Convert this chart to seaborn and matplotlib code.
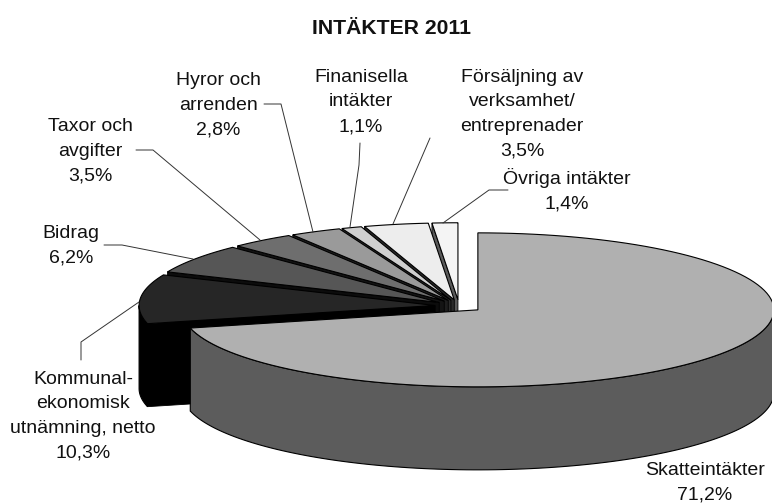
import numpy as np
import seaborn as sns
import matplotlib.pyplot as plt

# Andelar i procent, medurs fran klockan 12
names = ['Skatteintäkter', 'Kommunal-\nekonomisk\nutnämning, netto', 'Bidrag', 'Taxor och\navgifter',
         'Hyror och\narrenden', 'Finanisella\nintäkter', 'Försäljning av\nverksamhet/\nentreprenader', 'Övriga intäkter']
shares = [71.2, 10.3, 6.2, 3.5, 2.8, 1.1, 3.5, 1.4]
value_labels = ['71,2%', '10,3%', '6,2%', '3,5%', '2,8%', '1,1%', '3,5%', '1,4%']

top_colors = ['#b0b0b0', '#262626', '#565656', '#6e6e6e', '#9a9a9a', '#cfcfcf', '#ededed', '#f4f4f4']
side_colors = ['#5c5c5c', '#000000', '#0c0c0c', '#141414', '#1e1e1e', '#2c2c2c', '#2a2a2a', '#5a5a5a']

label_pos = [(705, 483), (83, 416), (71, 246), (90, 151), (218, 105), (361, 102), (522, 114), (567, 190)]
leaders = [None,
           [(139, 302), (81, 342), (81, 360)],
           [(104, 245), (122, 245), (193, 259)],
           [(136, 150), (153, 150), (260, 240)],
           [(264, 104), (281, 104), (313, 232)],
           [(360, 143), (359, 165), (350, 227)],
           [(430, 138), (393, 224)],
           [(508, 190), (489, 190), (443, 223)]]

# Geometri for 3D-pajen (pixlar)
cx, cy = 459, 306
rx, ry = 296, 77
depth = 83
explode = 24

sns.set_theme(style='white')
plt.rcParams['font.family'] = ['Liberation Sans', 'DejaVu Sans']

fig = plt.figure(figsize=(7.72, 5.04), dpi=100)
ax = fig.add_axes([0, 0, 1, 1])
ax.set_xlim(0, 772)
ax.set_ylim(504, 0)
ax.axis('off')

edges = np.cumsum([0] + shares) / 100 * 2 * np.pi


def rim(apex, a0, a1):
    t = np.linspace(a0, a1, 120)
    return apex[0] + rx * np.sin(t), apex[1] - ry * np.cos(t)


def draw_slice(i):
    a0, a1 = edges[i], edges[i + 1]
    mid = (a0 + a1) / 2
    apex = (cx + explode * np.sin(mid), cy - explode * ry / rx * np.cos(mid))
    x, y = rim(apex, a0, a1)

    # Synlig del av ytterkanten (framsidan av pajen)
    lo, hi = max(a0, np.pi / 2), min(a1, 3 * np.pi / 2)
    if lo < hi:
        wx, wy = rim(apex, lo, hi)
        ax.fill(np.r_[wx, wx[::-1]], np.r_[wy, wy[::-1] + depth],
                facecolor=side_colors[i], edgecolor='black', lw=0.8)

    # Snittytan vid startvinkeln syns bara for de sma sektorerna
    if i > 0:
        ax.fill([apex[0], x[0], x[0], apex[0]], [apex[1], y[0], y[0] + depth, apex[1] + depth],
                facecolor=side_colors[i], edgecolor='black', lw=0.6)

    ax.fill(np.r_[apex[0], x], np.r_[apex[1], y], facecolor=top_colors[i], edgecolor='black', lw=0.8)


# Bakifran och framat, huvudsektorn sist
for i in range(len(shares) - 1, -1, -1):
    draw_slice(i)

for name, val, pos, lead in zip(names, value_labels, label_pos, leaders):
    ax.text(pos[0], pos[1], name + '\n' + val, ha='center', va='center', fontsize=14,
            linespacing=1.58, color='#111111')
    if lead:
        ax.plot(*zip(*lead), color='#333333', lw=0.7)

ax.text(391, 28, 'INTÄKTER 2011', ha='center', va='center', fontsize=15.2, fontweight='bold', color='#111111')

fig.savefig('out.png', dpi=100)
